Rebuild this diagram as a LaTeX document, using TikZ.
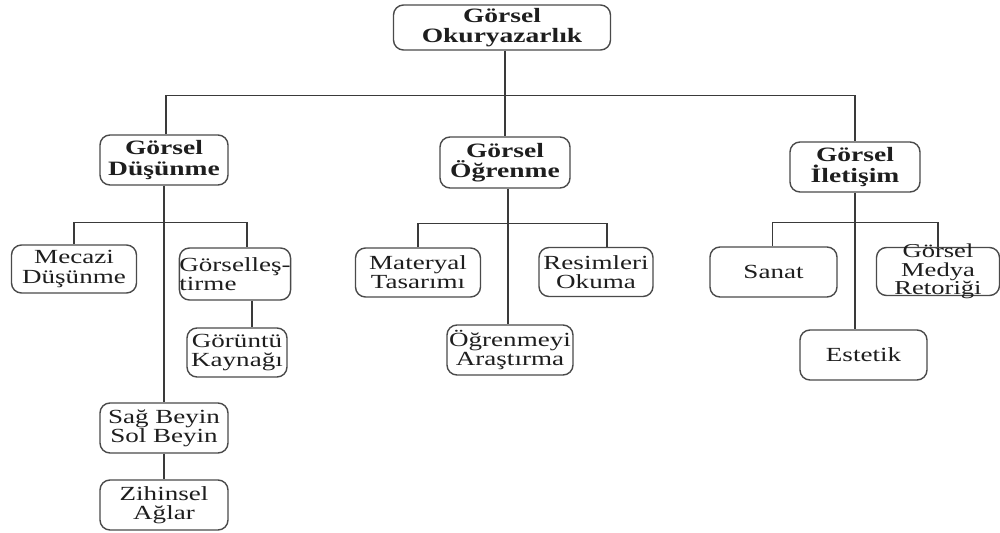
\documentclass[tikz,border=0pt]{standalone}
\usepackage{fontspec}
\setmainfont{Liberation Serif}
\newfontfamily\tf[FakeStretch=1.35]{Liberation Serif}
\usetikzlibrary{calc}
\definecolor{ink}{HTML}{1E1E1E}
\definecolor{edge}{HTML}{4A4A4A}
\definecolor{wire}{HTML}{3A3A3A}
\tikzset{
  bx/.style 2 args={draw=edge, line width=0.8pt, rounded corners=0.2cm, fill=white,
    minimum width=#1*0.02cm, minimum height=#2*0.02cm, inner sep=0pt, align=center,
    text=ink},
  head/.style={font=\tf\fontsize{11.6}{11.6}\selectfont\bfseries},
  leaf/.style={font=\tf\fontsize{11.4}{10.9}\selectfont},
  wirel/.style={draw=wire, line width=0.85pt}
}
\begin{document}
\begin{tikzpicture}[x=0.02cm,y=-0.02cm]
\useasboundingbox (0,0) rectangle (1000,533);
% level 0
\node[bx={217}{45},head] (root) at (502,27.5) {Görsel\\Okuryazarlık};
% level 1
\node[bx={128}{50},head] (dus) at (164,160) {Görsel\\Düşünme};
\node[bx={130}{51},head] (ogr) at (505,162.5) {Görsel\\Öğrenme};
\node[bx={130}{50},head] (ilt) at (855,167) {Görsel\\İletişim};
% level 2 - Düşünme
\node[bx={125}{48},leaf] (mec) at (74,269) {Mecazi\\Düşünme};
\node[bx={104}{52},leaf,align=left] (gst) at (235,274) {Görselleş-\\tirme};
\node[bx={100}{49},leaf] (gk) at (237,352.5) {Görüntü\\Kaynağı};
\node[bx={128}{50},leaf] (sag) at (164,428) {Sağ Beyin\\Sol Beyin};
\node[bx={128}{50},leaf] (zih) at (164,505) {Zihinsel\\Ağlar};
% level 2 - Öğrenme
\node[bx={125}{49},leaf] (mat) at (418,272.5) {Materyal\\Tasarımı};
\node[bx={114}{49},leaf] (res) at (596,272) {Resimleri\\Okuma};
\node[bx={126}{50},leaf] (ara) at (510,350) {Öğrenmeyi\\Araştırma};
% level 2 - İletişim
\node[bx={127}{50},leaf] (san) at (773.5,272) {Sanat};
\node[bx={123}{48},leaf] (gmr) at (938,271.5) {};
\node[leaf, text=ink, align=center, inner sep=0pt, font=\tf\fontsize{11.2}{10.6}\selectfont] (gmrt) at (gmr.center) {Görsel\\Medya\\Retoriği};
\node[bx={127}{50},leaf] (est) at (863.5,355) {Estetik};
% connectors level 0 -> 1
\draw[wirel] ([xshift=3*0.02cm]root.south) -- ($([xshift=3*0.02cm]root.south|-ogr.north)$);
\draw[wirel] ([xshift=2*0.02cm]dus.north) |- ($(ilt.north)+(0,-46)$) -- (ilt.north);
% Düşünme
\draw[wirel] (dus.south) -- ($(dus.south|-sag.north)$);
\draw[wirel] (mec.north) |- ($(dus.south)+(0,37)$) -| ([xshift=12*0.02cm]gst.north);
\draw[wirel] ([xshift=17*0.02cm]gst.south) -- ([xshift=15*0.02cm]gk.north);
\draw[wirel] (sag.south) -- (zih.north);
% Öğrenme
\draw[wirel] ([xshift=3*0.02cm]ogr.south) -- ([xshift=-2*0.02cm]ara.north);
\draw[wirel] (mat.north) |- ($(ogr.south)+(0,35)$) -| ([xshift=11*0.02cm]res.north);
% İletişim
\draw[wirel] (ilt.south) -- ($(ilt.south|-est.north)$);
\draw[wirel] ([xshift=-1*0.02cm]san.north) |- ($(ilt.south)+(0,30)$) -| (gmr.north);
\end{tikzpicture}
\end{document}
